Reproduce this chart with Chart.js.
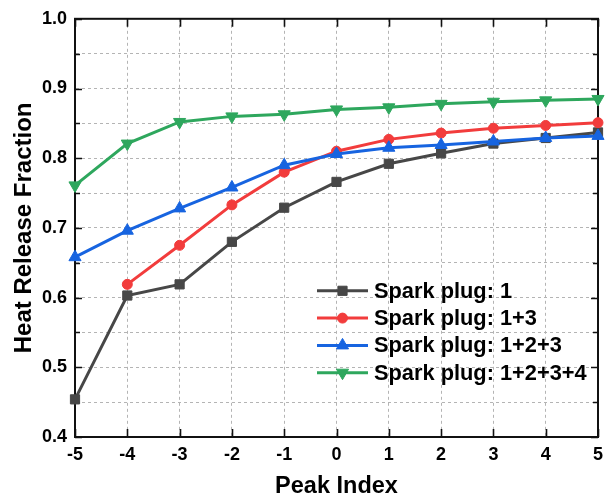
<!DOCTYPE html>
<html>
<head>
<meta charset="utf-8">
<script src="https://cdn.jsdelivr.net/npm/chart.js@4/dist/chart.umd.min.js"></script>
<style>
  html, body { margin: 0; padding: 0; background: #ffffff; }
  #wrap { width: 615px; height: 501px; }
</style>
</head>
<body>
<div id="wrap"><canvas id="c" width="615" height="501"></canvas></div>
<script>
// Peak index positions on the x axis
const peakIndex = [-5, -4, -3, -2, -1, 0, 1, 2, 3, 4, 5];

// Heat release fraction for each ignition configuration
const plug1       = [0.454, 0.603, 0.619, 0.680, 0.729, 0.766, 0.792, 0.807, 0.821, 0.829, 0.837];
const plug13      = [null,  0.619, 0.675, 0.733, 0.780, 0.810, 0.827, 0.836, 0.843, 0.847, 0.851];
const plug123     = [0.658, 0.696, 0.728, 0.758, 0.790, 0.806, 0.815, 0.819, 0.824, 0.829, 0.832];
const plug1234    = [0.761, 0.821, 0.852, 0.860, 0.863, 0.870, 0.873, 0.878, 0.881, 0.883, 0.885];

const seriesLabels = ['Spark plug: 1', 'Spark plug: 1+3', 'Spark plug: 1+2+3', 'Spark plug: 1+2+3+4'];

const FONT = "'Liberation Sans', Arial, Helvetica, sans-serif";

const toPoints = vals => peakIndex.map((x, i) => ({ x: x, y: vals[i] }));

function series(label, vals, color, style, radius, rotation, order) {
  return {
    label: label,
    data: toPoints(vals),
    borderColor: color,
    backgroundColor: color,
    borderWidth: 3,
    pointStyle: style,
    pointRadius: radius,
    pointHoverRadius: radius,
    pointRotation: rotation,
    pointBorderWidth: 1,
    pointBackgroundColor: color,
    pointBorderColor: color,
    tension: 0,
    order: order,
    clip: false
  };
}

// Box frame with inward tick marks on all four sides
const framePlugin = {
  id: 'frame',
  beforeDatasetsDraw(chart) {
    const { ctx, chartArea: a, scales } = chart;
    const xs = scales.x, ys = scales.y;
    ctx.save();
    ctx.setLineDash([]);
    ctx.strokeStyle = '#111111';
    ctx.lineWidth = 2;
    ctx.strokeRect(a.left, a.top, a.right - a.left, a.bottom - a.top);
    ctx.lineWidth = 1.6;
    ctx.beginPath();
    xs.ticks.forEach(t => {
      const px = Math.round(xs.getPixelForValue(t.value)) + 0.5;
      ctx.moveTo(px, a.bottom); ctx.lineTo(px, a.bottom - 8);
      ctx.moveTo(px, a.top); ctx.lineTo(px, a.top + 8);
    });
    ys.ticks.forEach(t => {
      const py = Math.round(ys.getPixelForValue(t.value)) + 0.5;
      const major = Math.abs(Math.round(t.value * 10) - t.value * 10) < 1e-6;
      const len = major ? 7 : 5;
      ctx.moveTo(a.left, py); ctx.lineTo(a.left + len, py);
      ctx.moveTo(a.right, py); ctx.lineTo(a.right - len, py);
    });
    ctx.stroke();
    ctx.restore();
  }
};

// Legend drawn inside the plot area, lower right
const insideLegend = {
  id: 'insideLegend',
  afterDatasetsDraw(chart) {
    const { ctx, chartArea: a } = chart;
    const x0 = a.left + 242, x1 = a.left + 293, xm = (x0 + x1) / 2;
    const y0 = a.top + 272, dy = 27.3;
    ctx.save();
    ctx.setLineDash([]);
    chart.data.datasets.forEach((ds, i) => {
      const y = y0 + i * dy;
      ctx.strokeStyle = ds.borderColor;
      ctx.lineWidth = 3;
      ctx.beginPath();
      ctx.moveTo(x0, y); ctx.lineTo(x1, y);
      ctx.stroke();
      ctx.fillStyle = ds.pointBackgroundColor;
      ctx.strokeStyle = ds.pointBorderColor;
      ctx.lineWidth = 1;
      Chart.helpers.drawPoint(ctx, {
        pointStyle: ds.pointStyle,
        rotation: ds.pointRotation,
        radius: ds.pointRadius,
        borderWidth: 1
      }, xm, y);
      ctx.fillStyle = '#000000';
      ctx.font = 'bold 21.8px ' + FONT;
      ctx.textBaseline = 'middle';
      ctx.textAlign = 'left';
      ctx.fillText(ds.label, x1 + 6, y + 1);
    });
    ctx.restore();
  }
};

const gridStyle = {
  color: '#b4b4b4',
  lineWidth: 1,
  drawTicks: false,
  borderDash: [3, 3]
};

new Chart(document.getElementById('c'), {
  type: 'line',
  data: {
    datasets: [
      series(seriesLabels[0], plug1,    '#474747', 'rect',     6.5, 0,   4),
      series(seriesLabels[1], plug13,   '#f23c3c', 'circle',   5,   0,   3),
      series(seriesLabels[2], plug123,  '#1764e0', 'triangle', 7,   0,   2),
      series(seriesLabels[3], plug1234, '#2ea75d', 'triangle', 7,   180, 1)
    ]
  },
  options: {
    responsive: false,
    animation: false,
    devicePixelRatio: 1,
    layout: { padding: { top: 16, right: 17, left: 0, bottom: 0 } },
    plugins: {
      legend: { display: false },
      tooltip: { enabled: false }
    },
    scales: {
      x: {
        type: 'linear',
        min: -5,
        max: 5,
        afterFit(scale) { scale.height = 64; },
        ticks: {
          stepSize: 1,
          padding: 7,
          color: '#000000',
          font: { family: FONT, size: 18, weight: 'bold' },
          callback: v => String(v)
        },
        grid: gridStyle,
        border: { display: true, color: '#111111', width: 2, dash: [3, 3] },
        title: {
          display: true,
          text: 'Peak Index',
          color: '#000000',
          font: { family: FONT, size: 23.5, weight: 'bold' },
          padding: { top: 0, bottom: 0 }
        }
      },
      y: {
        type: 'linear',
        min: 0.4,
        max: 1.0,
        afterFit(scale) { scale.width = 75; },
        ticks: {
          stepSize: 0.05,
          autoSkip: false,
          padding: 8,
          color: '#000000',
          font: { family: FONT, size: 18, weight: 'bold' },
          callback: v => (Math.abs(Math.round(v * 10) - v * 10) < 1e-6 ? v.toFixed(1) : '')
        },
        grid: gridStyle,
        border: { display: true, color: '#111111', width: 2, dash: [3, 3] },
        title: {
          display: true,
          text: 'Heat Release Fraction',
          color: '#000000',
          font: { family: FONT, size: 24, weight: 'bold' },
          padding: { top: 10, bottom: 0 }
        }
      }
    }
  },
  plugins: [framePlugin, insideLegend]
});
</script>
</body>
</html>
